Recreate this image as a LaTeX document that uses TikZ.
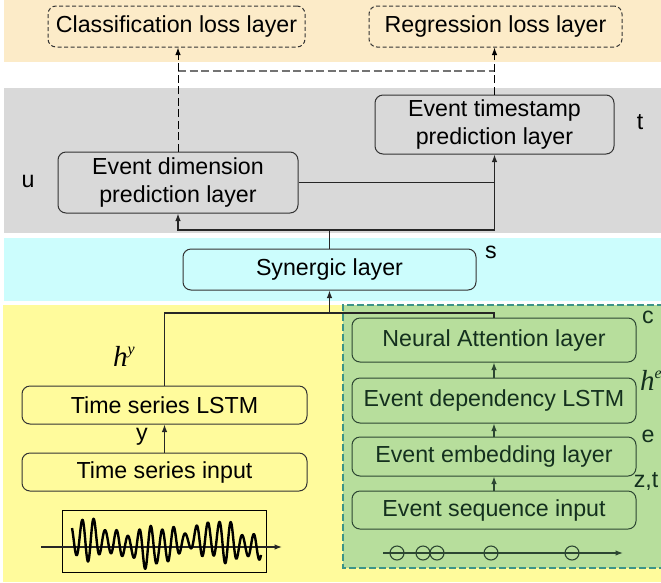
\documentclass[tikz,border=0pt]{standalone}
\usepackage{fontspec}
\setmainfont{Liberation Sans}
\newfontfamily\seriffam{Liberation Serif}
\usetikzlibrary{arrows.meta}
\definecolor{bandbeige}{HTML}{FCEBC8}
\definecolor{bandgray}{HTML}{D9D9D9}
\definecolor{bandcyan}{HTML}{CCFDFD}
\definecolor{bandyellow}{HTML}{FFFB9C}
\definecolor{greenfill}{HTML}{B7DE9C}
\definecolor{greenedge}{HTML}{3C9488}
\definecolor{greenline}{HTML}{2C4632}
\definecolor{greentext}{HTML}{14301E}
\newcommand{\hsup}[1]{{\seriffam\itshape\fontsize{29}{29}\selectfont h\raisebox{0.4em}{\fontsize{16}{16}\selectfont #1}}}
\begin{document}
\begin{tikzpicture}[x=1pt,y=-1pt,
  font=\fontsize{23.2}{27.5}\selectfont,
  >={Latex[length=7.5pt,width=5.5pt]},
  box/.style={draw=black!80, line width=1pt, rounded corners=8pt, inner sep=0pt, align=center},
  lossbox/.style={box, dash pattern=on 4pt off 2.5pt},
  gbox/.style={box, draw=greenline, text=greentext},
  conn/.style={draw=black!85, line width=1.2pt},
  dconn/.style={draw=black, line width=1pt, dash pattern=on 8pt off 3.5pt},
  dhconn/.style={draw=black!55, line width=1.2pt, dash pattern=on 8pt off 3.5pt},
  gconn/.style={draw=greenline, line width=1.2pt},
  lab/.style={inner sep=0pt}]
\useasboundingbox (0,0) rectangle (661,582);
% background bands
\fill[white] (0,0) rectangle (661,582);
\fill[bandbeige] (4,0) rectangle (661,62);
\fill[bandgray] (4,88) rectangle (661,233);
\fill[bandcyan] (4,238) rectangle (661,301);
\fill[bandyellow] (3,305) rectangle (661,582);
\fill[greenfill] (343,305) rectangle (664,568);
\draw[greenedge, line width=1.5pt, dash pattern=on 7pt off 3pt] (664,305) -- (343,305) -- (343,568) -- (664,568);

% nodes
\node[lossbox, minimum width=257pt, minimum height=41pt] (cls) at (176.5,26.5) {Classification loss layer};
\node[lossbox, minimum width=253pt, minimum height=41pt] (reg) at (495.5,26.5) {Regression loss layer};
\node[box, minimum width=239pt, minimum height=59pt] (ts) at (494.5,124.5) {Event timestamp\\prediction layer};
\node[box, minimum width=240pt, minimum height=61pt] (dim) at (178,182.5) {Event dimension\\prediction layer};
\node[box, minimum width=293pt, minimum height=41pt] (syn) at (329.5,269.5) {Synergic layer};
\node[box, minimum width=285pt, minimum height=38pt] (lstm) at (164.5,405) {Time series LSTM};
\node[box, minimum width=285pt, minimum height=38pt] (tsin) at (164.5,472) {Time series input};
\node[gbox, minimum width=284pt, minimum height=44pt] (att) at (494,340) {Neural Attention layer};
\node[gbox, minimum width=284pt, minimum height=45pt] (dep) at (494,400.5) {Event dependency LSTM};
\node[gbox, minimum width=284pt, minimum height=39pt] (emb) at (494,456.5) {Event embedding layer};
\node[gbox, minimum width=284pt, minimum height=38pt] (seq) at (494,510) {Event sequence input};

% labels
\node[lab] (lu) at (28,181) {u};
\node[lab] (lt) at (640,122) {t};
\node[lab] (ls) at (491,252) {s};
\node[lab, text=greentext] (lc) at (648,317) {c};
\node[lab, text=greentext] (lhe) at (651,380) {\hsup{e}};
\node[lab, text=greentext] (le) at (648,436) {e};
\node[lab, text=greentext] (lzt) at (646,481) {z,t};
\node[lab] (lhy) at (124,356) {\hsup{y}};
\node[lab] (ly) at (142,437) {y};

% connectors top
\coordinate (dj) at (178,71);
\coordinate (tj) at (494.5,71);
\draw[dhconn] (dj) -- (tj);
\draw[dconn,->] (dim.north) -- (dim.north |- cls.south);
\draw[dconn,->] (ts.north) -- (ts.north |- reg.south);
\draw[conn] (dim.east) -- (ts.south |- dim.east);
\coordinate (j1) at (329.5,230);
\draw[conn] (syn.north) -- (j1);
\draw[conn,->] (j1) -| (dim.south);
\draw[conn,->] (j1) -| (ts.south);

% connectors bottom
\coordinate (j2) at (494,313);
\draw[conn] (lstm.north) |- (j2) -- (att.north);
\draw[conn,->] (syn.south |- j2) -- (syn.south);
\draw[conn,->] (tsin.north) -- (lstm.south);
\draw[gconn,->] (seq.north) -- (emb.south);
\draw[gconn,->] (emb.north) -- (dep.south);
\draw[gconn,->] (dep.north) -- (att.north |- att.south);

% waveform
\draw[black, line width=1pt] (62,510) rectangle (266,572);
\draw[conn,->] (41,547) -- (282,547);
\draw[black, line width=2.4pt, line join=round] plot[domain=72:261, samples=500, smooth]
  (\x, {543 - (15 + 5*sin(\x*5.3) + 3*sin(\x*13))*sin((\x-68)*31.5) + 4*sin(\x*3.1)});

% event sequence
\draw[gconn,->] (383,553) -- (623,553);
\foreach \cx in {397,423,437,491,572}
  \draw[greenline, line width=1.1pt] (\cx,553) circle (7pt);
\end{tikzpicture}
\end{document}
